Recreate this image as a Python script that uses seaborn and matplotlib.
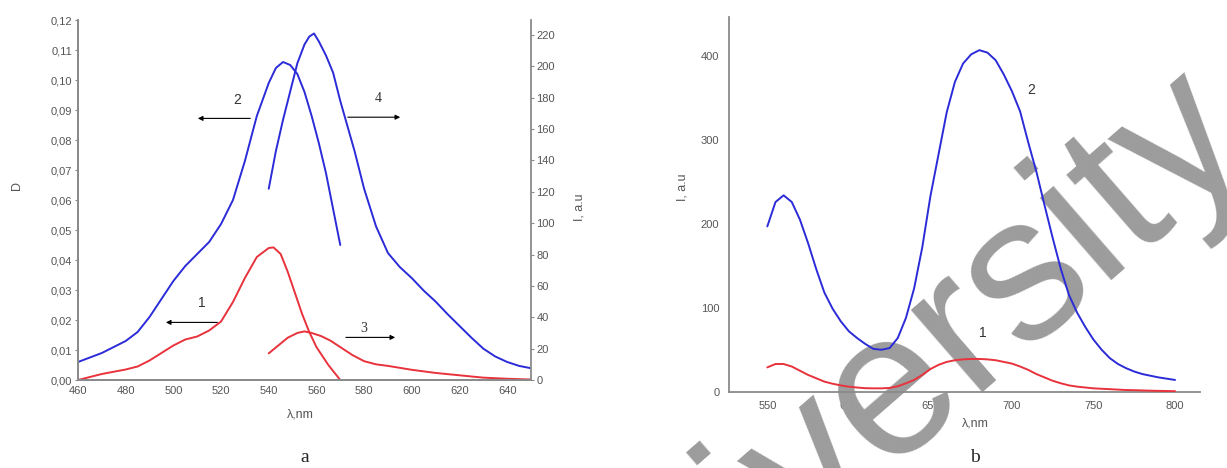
import matplotlib
matplotlib.use('Agg')
import matplotlib.pyplot as plt
from matplotlib.ticker import FuncFormatter
import seaborn as sns
import pandas as pd

# panel a: absorbance (left axis, D)
wl_abs1 = [460, 470, 480, 485, 490, 495, 500, 505, 510, 515, 520, 525, 530, 535, 540, 542,
           545, 548, 551, 554, 557, 560, 565, 570]
d_abs1 = [0.000, 0.002, 0.0035, 0.0045, 0.0065, 0.009, 0.0115, 0.0135, 0.0145, 0.0165, 0.0195,
          0.026, 0.034, 0.041, 0.044, 0.0442, 0.042, 0.036, 0.029, 0.022, 0.016, 0.011, 0.005, 0.000]
wl_abs2 = [460, 465, 470, 475, 480, 485, 490, 495, 500, 505, 510, 515, 520, 525, 530, 535, 540,
           543, 546, 549, 552, 555, 558, 561, 564, 567, 570]
d_abs2 = [0.006, 0.0075, 0.009, 0.011, 0.013, 0.016, 0.021, 0.027, 0.033, 0.038, 0.042, 0.046,
          0.052, 0.060, 0.073, 0.088, 0.099, 0.104, 0.106, 0.105, 0.102, 0.096, 0.088, 0.079,
          0.069, 0.057, 0.045]

# panel a: emission (right axis, I)
wl_em3 = [540, 544, 548, 552, 555, 558, 562, 566, 570, 575, 580, 585, 590, 600, 610, 620, 630, 640, 650]
i_em3 = [17, 22, 27, 30, 31, 30, 28, 25, 21, 16, 12, 10, 9, 6.5, 4.5, 3, 1.5, 0.8, 0.3]
wl_em4 = [540, 543, 546, 549, 552, 555, 557, 559, 561, 564, 567, 570, 573, 576, 580, 585, 590,
          595, 600, 605, 610, 615, 620, 625, 630, 635, 640, 645, 650]
i_em4 = [122, 146, 166, 184, 202, 214, 219, 221, 216, 207, 196, 178, 162, 146, 122, 98, 81,
         72, 65, 57, 50, 42, 34.5, 27, 20, 15, 11.5, 9, 7.5]

# panel b
wl_b = list(range(550, 801, 5))
i_b1 = [29, 33, 33, 30, 25, 20, 16, 12, 9.5, 7.5, 6, 5, 4.2, 4, 4, 4.5, 6.5, 10, 14, 20, 27, 32,
        35.5, 37.5, 38.5, 39, 39, 38.5, 37.5, 35.5, 33.5, 30, 26, 21, 17, 13, 10, 7.5, 6, 5, 4,
        3.5, 3, 2.5, 2, 1.8, 1.5, 1.2, 1, 0.8, 0.6]
i_b2 = [197, 226, 234, 226, 205, 177, 146, 118, 99, 84, 72, 64, 57, 51, 50, 52, 64, 88, 123, 172,
        233, 283, 333, 369, 391, 402, 407, 404, 395, 378, 358, 334, 297, 262, 222, 183, 146, 115,
        94, 77, 62, 50, 40, 33, 28, 24, 21, 19, 17, 15.5, 14]

xticks_a = list(range(460, 641, 20))
yticks_d = [i / 100 for i in range(13)]
yticks_i = list(range(0, 221, 20))
xticks_b = [550, 600, 650, 700, 750, 800]
yticks_b = [0, 100, 200, 300, 400]

BLUE = '#2b2bd8'
RED = '#e8323c'
GRAY = '#8a8a8a'
TXT = '#555555'

sns.set_style('white')
plt.rcParams['font.family'] = ['Liberation Sans', 'DejaVu Sans']

fig = plt.figure(figsize=(12.27, 4.68), dpi=100)

# ---- panel a
ax = fig.add_axes([78 / 1227, 88 / 468, 453 / 1227, 360 / 468])
ax2 = ax.twinx()
ax.patch.set_alpha(0)

sns.lineplot(x=wl_abs1, y=d_abs1, ax=ax, color=RED, lw=1.4, sort=False)
sns.lineplot(x=wl_abs2, y=d_abs2, ax=ax, color=BLUE, lw=1.4, sort=False)
sns.lineplot(x=wl_em3, y=i_em3, ax=ax2, color=RED, lw=1.4, sort=False)
sns.lineplot(x=wl_em4, y=i_em4, ax=ax2, color=BLUE, lw=1.4, sort=False)

ax.set_xlim(460, 650)
ax.set_ylim(0, 0.12)
ax2.set_ylim(0, 229.6)
ax.set_xticks(xticks_a)
ax.set_yticks(yticks_d)
ax2.set_yticks(yticks_i)
ax.yaxis.set_major_formatter(FuncFormatter(lambda v, p: f'{v:.2f}'.replace('.', ',')))

for a in (ax, ax2):
    for s in a.spines.values():
        s.set_color(GRAY)
        s.set_linewidth(1.3)
    a.spines['top'].set_visible(False)
    a.tick_params(labelsize=8, labelcolor=TXT, color=GRAY, length=2, width=0.8, pad=2)
ax.spines['right'].set_visible(False)

ax.set_xlabel('λ,nm', fontsize=9, color=TXT)
ax.xaxis.set_label_coords(0.49, -0.078)
ax.set_ylabel('D', fontsize=9, color=TXT)
ax.yaxis.set_label_coords(-0.122, 0.54)
ax2.set_ylabel('I, a.u', fontsize=9, color=TXT)
ax2.yaxis.set_label_coords(1.093, 0.48)

arr = dict(arrowstyle='-|>', color='black', lw=0.8, mutation_scale=7)
ax.annotate('', xy=(509.1, 0.0872), xytext=(533.4, 0.0872), arrowprops=arr)
ax.annotate('', xy=(495.7, 0.0192), xytext=(519.6, 0.0192), arrowprops=arr)
ax.annotate('', xy=(596.3, 0.0876), xytext=(572.0, 0.0876), arrowprops=arr)
ax.annotate('', xy=(594.2, 0.0142), xytext=(571.2, 0.0142), arrowprops=arr)
ax.text(526.6, 0.0933, '2', fontsize=10, color='#333333', ha='center', va='center')
ax.text(511.9, 0.0256, '1', fontsize=10, color='#333333', ha='center', va='center')
ax.text(586.0, 0.0939, '4', fontsize=10, color='#333333', ha='center', va='center', family='Liberation Serif')
ax.text(579.7, 0.0172, '3', fontsize=10, color='#333333', ha='center', va='center', family='Liberation Serif')

# ---- panel b
bx = fig.add_axes([729 / 1227, 76.3 / 468, 471 / 1227, 374.7 / 468])
bx.patch.set_alpha(0)
df_b = pd.DataFrame({'wl': wl_b, 'I1': i_b1, 'I2': i_b2})
sns.lineplot(data=df_b, x='wl', y='I2', ax=bx, color=BLUE, lw=1.4, zorder=3)
sns.lineplot(data=df_b, x='wl', y='I1', ax=bx, color=RED, lw=1.4, zorder=3)
bx.set_xlim(526.5, 815.3)
bx.set_ylim(0, 446.5)
bx.set_xticks(xticks_b)
bx.set_yticks(yticks_b)
for k in ('top', 'right'):
    bx.spines[k].set_visible(False)
for s in ('left', 'bottom'):
    bx.spines[s].set_color(GRAY)
    bx.spines[s].set_linewidth(1.3)
bx.tick_params(labelsize=8, labelcolor=TXT, color=GRAY, length=2, width=0.8, pad=5)
bx.set_xlabel('λ,nm', fontsize=9, color=TXT)
bx.xaxis.set_label_coords(0.522, -0.07)
bx.set_ylabel('I, a.u', fontsize=9, color=TXT)
bx.yaxis.set_label_coords(-0.086, 0.546)
bx.text(712, 360, '2', fontsize=10, color='#333333', ha='center', va='center')
bx.text(682.4, 70, '1', fontsize=10, color='#333333', ha='center', va='center')

# watermark
bx.text(878 / 1227, 1 - 400 / 468, 'University', transform=fig.transFigure, fontsize=148,
        rotation=41, rotation_mode='anchor', ha='center', va='center', color='#9c9c9c',
        clip_on=False, zorder=1)

fig.text(305 / 1227, 1 - 457 / 468, 'a', fontsize=14, family='Liberation Serif', ha='center', va='center')
fig.text(975 / 1227, 1 - 457 / 468, 'b', fontsize=14, family='Liberation Serif', ha='center', va='center')

fig.savefig('out.png', dpi=100)
